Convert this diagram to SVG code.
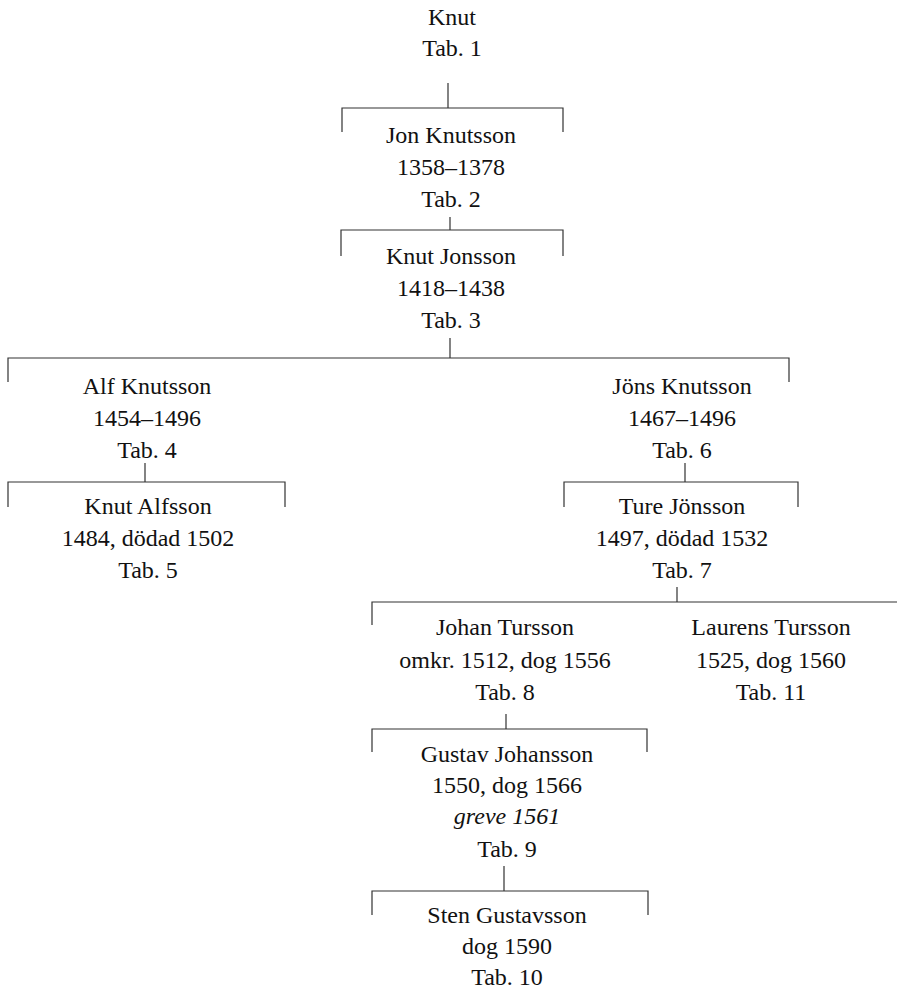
<svg xmlns="http://www.w3.org/2000/svg" width="897" height="992" viewBox="0 0 897 992">
<style>
text{font-family:"Liberation Serif","Times New Roman",serif;font-size:24px;fill:#111;text-anchor:middle}
.it{font-style:italic}
.c{stroke:#333;stroke-width:1.2;fill:none}
</style>
<rect width="897" height="992" fill="#fff"/>
<g id="connectors" class="c">
<path d="M448 83V108M342 132V108H563V132"/>
<path d="M450 217V230M341 256V230H563V256"/>
<path d="M450 338V358M8 382V358H789V382"/>
<path d="M145 463V482M8 507V482H285V507"/>
<path d="M685 463V482M564 507V482H798V507"/>
<path d="M677 587V602M372 625V602H897"/>
<path d="M506 714V729M372 752V729H647V752"/>
<path d="M504 866V891M372 915V891H648V915"/>
</g>
<g id="knut"><text x="452" y="25">Knut</text><text x="452" y="56">Tab. 1</text></g>
<g id="jon"><text x="451" y="143">Jon Knutsson</text><text x="451" y="175">1358–1378</text><text x="451" y="207">Tab. 2</text></g>
<g id="knut-jonsson"><text x="451" y="264">Knut Jonsson</text><text x="451" y="296">1418–1438</text><text x="451" y="328">Tab. 3</text></g>
<g id="alf"><text x="147" y="394">Alf Knutsson</text><text x="147" y="426">1454–1496</text><text x="147" y="458">Tab. 4</text></g>
<g id="jons"><text x="682" y="394">Jöns Knutsson</text><text x="682" y="426">1467–1496</text><text x="682" y="458">Tab. 6</text></g>
<g id="knut-alfsson"><text x="148" y="514">Knut Alfsson</text><text x="148" y="546">1484, dödad 1502</text><text x="148" y="578">Tab. 5</text></g>
<g id="ture"><text x="682" y="514">Ture Jönsson</text><text x="682" y="546">1497, dödad 1532</text><text x="682" y="578">Tab. 7</text></g>
<g id="johan"><text x="505" y="635">Johan Tursson</text><text x="505" y="668">omkr. 1512, dog 1556</text><text x="505" y="700">Tab. 8</text></g>
<g id="laurens"><text x="771" y="635">Laurens Tursson</text><text x="771" y="668">1525, dog 1560</text><text x="771" y="700">Tab. 11</text></g>
<g id="gustav"><text x="507" y="762">Gustav Johansson</text><text x="507" y="793">1550, dog 1566</text><text class="it" x="507" y="824">greve 1561</text><text x="507" y="857">Tab. 9</text></g>
<g id="sten"><text x="507" y="923">Sten Gustavsson</text><text x="507" y="954">dog 1590</text><text x="507" y="985">Tab. 10</text></g>
</svg>
